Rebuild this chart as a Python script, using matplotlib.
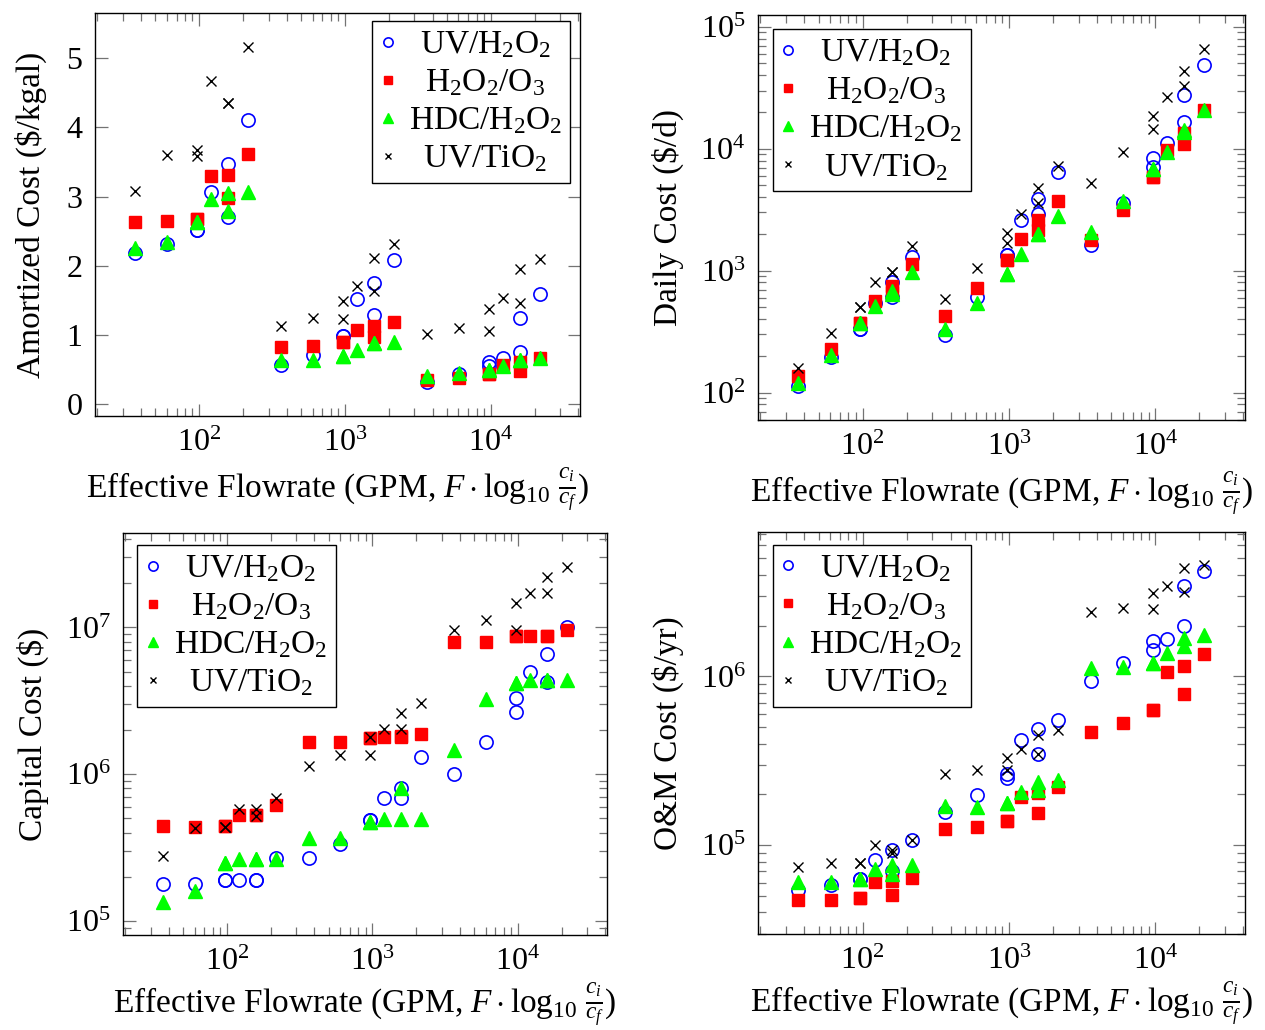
import matplotlib
matplotlib.use("Agg")
import matplotlib.pyplot as plt

plt.rcParams['font.family'] = 'serif'
plt.rcParams['font.serif'] = ['Liberation Serif', 'DejaVu Serif']
plt.rcParams['mathtext.fontset'] = 'custom'
plt.rcParams['mathtext.rm'] = 'Liberation Serif'
plt.rcParams['mathtext.it'] = 'Liberation Serif:italic'
plt.rcParams['mathtext.bf'] = 'Liberation Serif:bold'

# effective flowrate (GPM * log10 reduction), shared by all panels
flow = [36.5, 60.4, 96.8, 96.8, 120.8, 158.2, 158.2, 216.7,
        365, 604, 968, 968, 1208, 1582, 1582, 2167,
        3650, 6040, 9680, 9680, 12080, 15820, 15820, 21670]

series_names = [r'UV/H$_2$O$_2$', r'H$_2$O$_2$/O$_3$', r'HDC/H$_2$O$_2$', r'UV/TiO$_2$']

# amortized cost ($/kgal)
amort_uv_h2o2 = [2.18, 2.32, 2.51, 2.51, 3.07, 3.47, 2.71, 4.11,
                 0.57, 0.71, 0.98, 0.98, 1.52, 1.75, 1.28, 2.08,
                 0.31, 0.44, 0.60, 0.55, 0.66, 1.25, 0.75, 1.59]
amort_h2o2_o3 = [2.63, 2.65, 2.68, 2.68, 3.29, 3.31, 2.98, 3.62,
                 0.82, 0.84, 0.90, 0.90, 1.07, 1.13, 0.97, 1.19,
                 0.35, 0.37, 0.43, 0.43, 0.57, 0.60, 0.48, 0.67]
amort_hdc = [2.26, 2.34, 2.63, 2.63, 2.96, 3.05, 2.79, 3.06,
             0.64, 0.64, 0.69, 0.69, 0.78, 0.88, 0.88, 0.90,
             0.41, 0.45, 0.49, 0.49, 0.55, 0.64, 0.64, 0.67]
amort_uv_tio2 = [3.08, 3.60, 3.67, 3.58, 4.67, 4.36, 4.36, 5.17,
                 1.13, 1.24, 1.49, 1.23, 1.70, 2.11, 1.63, 2.32,
                 1.01, 1.10, 1.37, 1.05, 1.53, 1.95, 1.46, 2.10]

# daily cost ($/d)
daily_uv_h2o2 = [113, 196, 335, 335, 548, 802, 603, 1289,
                 295, 611, 1340, 1340, 2580, 3900, 2900, 6380,
                 1630, 3615, 8340, 7130, 11220, 27700, 16500, 49000]
daily_h2o2_o3 = [136, 226, 371, 371, 566, 752, 663, 1135,
                 426, 716, 1233, 1233, 1823, 2580, 2140, 3705,
                 1791, 3125, 5890, 5890, 9750, 13400, 10870, 20840]
daily_hdc = [119, 202, 371, 371, 515, 683, 643, 970,
             330, 548, 940, 940, 1357, 1983, 1983, 2785,
             2074, 3730, 6760, 6760, 9460, 14250, 13800, 20840]
daily_uv_tio2 = [160, 311, 499, 499, 802, 982, 982, 1606,
                 585, 1047, 2040, 1670, 2930, 4720, 3615, 7200,
                 5190, 9460, 18600, 14450, 26400, 43600, 32500, 65900]

# capital cost ($)
cap_uv_h2o2 = [1.78e5, 1.78e5, 1.89e5, 1.89e5, 1.89e5, 1.89e5, 1.89e5, 2.67e5,
               2.67e5, 3.37e5, 4.91e5, 4.91e5, 6.93e5, 8.11e5, 6.93e5, 1.30e6,
               1.00e6, 1.66e6, 3.30e6, 2.66e6, 4.99e6, 6.58e6, 4.22e6, 1.00e7]
cap_h2o2_o3 = [4.45e5, 4.38e5, 4.45e5, 4.45e5, 5.31e5, 5.31e5, 5.31e5, 6.15e5,
               1.66e6, 1.66e6, 1.76e6, 1.76e6, 1.78e6, 1.83e6, 1.80e6, 1.87e6,
               7.90e6, 7.90e6, 8.77e6, 8.77e6, 8.77e6, 8.77e6, 8.77e6, 9.64e6]
cap_hdc = [1.355e5, 1.60e5, 2.47e5, 2.47e5, 2.64e5, 2.64e5, 2.64e5, 2.64e5,
           3.65e5, 3.65e5, 4.69e5, 4.69e5, 4.93e5, 8.11e5, 4.93e5, 4.93e5,
           1.47e6, 3.24e6, 4.17e6, 4.17e6, 4.40e6, 4.40e6, 4.40e6, 4.40e6]
cap_uv_tio2 = [2.78e5, 4.28e5, 4.40e5, 4.40e5, 5.83e5, 5.77e5, 5.20e5, 6.93e5,
               1.14e6, 1.35e6, 1.78e6, 1.35e6, 2.03e6, 2.61e6, 2.03e6, 3.08e6,
               9.6e6, 1.13e7, 1.46e7, 9.6e6, 1.71e7, 2.22e7, 1.71e7, 2.60e7]

# O&M cost ($/yr)
om_uv_h2o2 = [54200, 58500, 63500, 63500, 81500, 93800, 70100, 108000,
              157000, 198000, 264000, 250000, 422000, 491000, 347000, 551000,
              934000, 1.20e6, 1.63e6, 1.44e6, 1.67e6, 3.41e6, 2.00e6, 4.22e6]
om_h2o2_o3 = [47100, 47400, 48800, 48800, 60700, 61200, 50600, 64000,
              124000, 129000, 140000, 140000, 192000, 204000, 155000, 220000,
              467000, 530000, 630000, 630000, 1.06e6, 1.16e6, 785000, 1.36e6]
om_hdc = [60400, 60400, 63400, 63400, 72400, 75900, 67100, 76200,
          170000, 169000, 178000, 178000, 206000, 237000, 211000, 245000,
          1.12e6, 1.13e6, 1.20e6, 1.20e6, 1.37e6, 1.69e6, 1.52e6, 1.75e6]
om_uv_tio2 = [74500, 78500, 78500, 78500, 100000, 93800, 90000, 108000,
              265000, 280000, 329000, 280000, 373000, 452000, 347000, 484000,
              2.40e6, 2.54e6, 3.11e6, 2.52e6, 3.45e6, 4.37e6, 3.18e6, 4.54e6]

xlabel = r'Effective Flowrate (GPM, $F \cdot \log_{10}\,\frac{c_i}{c_f}$)'
LABEL_FS = 24
TICK_FS = 23
LEG_FS = 24

styles = [dict(marker='o', mfc='none', mec='blue', mew=1.2, ms=9.5),
          dict(marker='s', mfc='red', mec='red', ms=8.5),
          dict(marker='^', mfc='#00ff00', mec='#00ff00', ms=9.5),
          dict(marker='x', mfc='black', mec='black', mew=1.0, ms=7)]

legends = []


def panel(rect, data, ylabel, ylim, logy, legloc, anchor, ypad, xpad):
    ax = fig.add_axes(rect)
    for ys, st, name in zip(data, styles, series_names):
        ax.plot(flow, ys, linestyle='none', label=name, **st)
    ax.set_xscale('log')
    if logy:
        ax.set_yscale('log')
    ax.set_xlim(19.3, 41000)
    ax.set_ylim(*ylim)
    ax.tick_params(which='both', direction='in', top=True, right=True,
                   color='0.45', width=0.9, labelsize=TICK_FS)
    ax.tick_params(which='major', length=9, pad=9)
    ax.tick_params(which='minor', length=6)
    for s in ax.spines.values():
        s.set_linewidth(1.0)
    ax.set_xlabel(xlabel, fontsize=LABEL_FS, labelpad=xpad)
    ax.set_ylabel(ylabel, fontsize=LABEL_FS, labelpad=ypad)
    leg = ax.legend(loc=legloc, bbox_to_anchor=anchor, borderaxespad=0,
                    fontsize=LEG_FS, fancybox=False, framealpha=1,
                    edgecolor='black', handlelength=0.45, handletextpad=0.4,
                    labelspacing=0.22, borderpad=0.25, markerscale=0.7)
    leg.get_frame().set_linewidth(1.0)
    legends.append(leg)
    return ax


fig = plt.figure(figsize=(12.65, 10.30), dpi=100)

ax1 = panel([0.0751, 0.5961, 0.3834, 0.3913],
            [amort_uv_h2o2, amort_h2o2_o3, amort_hdc, amort_uv_tio2],
            r'Amortized Cost (\$/kgal)', (-0.175, 5.655), False,
            'upper right', (0.98, 0.98), 14, 6)
ax1.set_yticks([0, 1, 2, 3, 4, 5])

panel([0.5992, 0.5922, 0.385, 0.3932],
      [daily_uv_h2o2, daily_h2o2_o3, daily_hdc, daily_uv_tio2],
      r'Daily Cost (\$/d)', (59.6, 124700), True,
      'upper left', (0.03, 0.965), 12, 6)

panel([0.0972, 0.0922, 0.3826, 0.3903],
      [cap_uv_h2o2, cap_h2o2_o3, cap_hdc, cap_uv_tio2],
      r'Capital Cost (\$)', (80200, 4.4e7), True,
      'upper left', (0.03, 0.97), 12, 3)

panel([0.5992, 0.0932, 0.385, 0.3903],
      [om_uv_h2o2, om_h2o2_o3, om_hdc, om_uv_tio2],
      r'O&M Cost (\$/yr)', (29800, 7.17e6), True,
      'upper left', (0.03, 0.968), 12, 3)

# centre the legend entries in their column, as in the original
fig.canvas.draw()
renderer = fig.canvas.get_renderer()
for leg in legends:
    widths = [t.get_window_extent(renderer).width for t in leg.get_texts()]
    wmax = max(widths)
    for t, w in zip(leg.get_texts(), widths):
        t.set_x((wmax - w) / 2)

fig.savefig('out.png', dpi=100)
